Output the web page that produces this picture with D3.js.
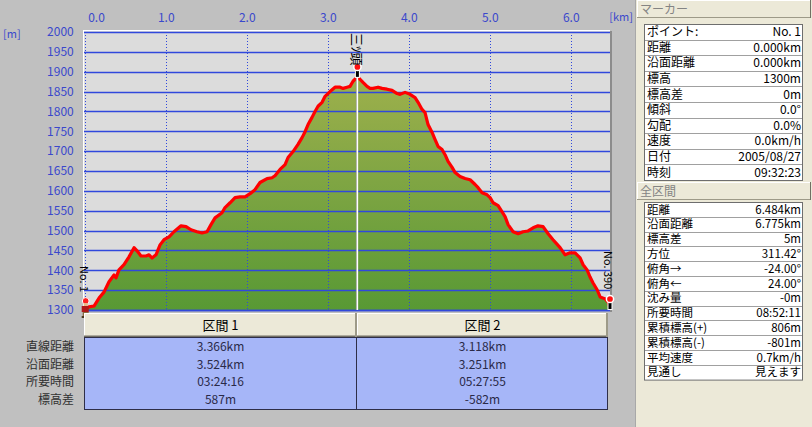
<!DOCTYPE html>
<html><head><meta charset="utf-8">
<script src="https://cdn.jsdelivr.net/npm/d3@7"></script>
<style>
html,body{margin:0;padding:0;background:#c0c0c0;}
svg{display:block;font-family:"Noto Sans CJK JP","Noto Sans",sans-serif;}
</style></head><body>
<svg id="chart" width="812" height="427"></svg>
<script>
// ---- data ----
const distKm = [0.000,0.053,0.115,0.177,0.238,0.300,0.362,0.386,0.423,0.485,0.547,0.609,0.646,0.695,0.757,0.794,0.831,0.880,0.930,0.979,1.041,1.102,1.189,1.251,1.312,1.386,1.448,1.510,1.559,1.609,1.695,1.732,1.794,1.856,1.917,1.979,2.041,2.102,2.164,2.251,2.312,2.349,2.411,2.473,2.510,2.572,2.633,2.683,2.720,2.757,2.806,2.843,2.880,2.930,2.967,3.028,3.090,3.152,3.189,3.238,3.275,3.312,3.366,3.398,3.435,3.485,3.522,3.559,3.621,3.670,3.732,3.794,3.856,3.893,3.954,4.016,4.078,4.115,4.164,4.201,4.238,4.288,4.325,4.362,4.411,4.448,4.485,4.535,4.572,4.633,4.695,4.757,4.819,4.856,4.905,4.967,5.004,5.041,5.103,5.152,5.189,5.226,5.288,5.350,5.412,5.473,5.535,5.596,5.658,5.720,5.781,5.868,5.930,5.991,6.053,6.115,6.152,6.201,6.238,6.275,6.325,6.362,6.425,6.462,6.484];
const elevM = [1300,1308,1310,1330,1345,1371,1388,1381,1401,1414,1434,1457,1449,1436,1436,1439,1431,1439,1464,1477,1484,1497,1512,1510,1502,1497,1494,1497,1515,1532,1545,1558,1570,1583,1585,1585,1593,1603,1621,1631,1633,1638,1654,1666,1684,1699,1717,1734,1749,1767,1785,1800,1813,1823,1838,1850,1861,1861,1858,1861,1863,1876,1887,1881,1873,1863,1858,1858,1861,1858,1856,1853,1845,1843,1848,1843,1835,1823,1805,1797,1767,1747,1729,1712,1704,1691,1674,1659,1646,1636,1631,1628,1616,1608,1595,1590,1583,1570,1563,1547,1535,1515,1497,1492,1497,1499,1507,1512,1510,1492,1477,1457,1439,1444,1444,1431,1414,1401,1383,1368,1351,1333,1328,1320,1305];
const xTicks = [0,1,2,3,4,5,6];
const yTicks = [1300,1350,1400,1450,1500,1550,1600,1650,1700,1750,1800,1850,1900,1950,2000];
const sectionCuts = [0, 3.366, 6.484];
const peakName = "三ﾂ頭";
const startName = "No. 1";
const endName = "No. 390";
const sectionNames = ["区間 1", "区間 2"];
const sectionRowLabels = ["直線距離", "沿面距離", "所要時間", "標高差"];
const section1Values = ["3.366km", "3.524km", "03:24:16", "587m"];
const section2Values = ["3.118km", "3.251km", "05:27:55", "-582m"];
const markerLabels = ["ポイント:", "距離", "沿面距離", "標高", "標高差", "傾斜", "勾配", "速度", "日付", "時刻"];
const markerValues = ["No. 1", "0.000km", "0.000km", "1300m", "0m", "0.0°", "0.0%", "0.0km/h", "2005/08/27", "09:32:23"];
const totalLabels = ["距離", "沿面距離", "標高差", "方位", "俯角→", "俯角←", "沈み量", "所要時間", "累積標高(+)", "累積標高(-)", "平均速度", "見通し"];
const totalValues = ["6.484km", "6.775km", "5m", "311.42°", "-24.00°", "24.00°", "-0m", "08:52:11", "806m", "-801m", "0.7km/h", "見えます"];

// ---- setup ----
const svg = d3.select("#chart");
const W = 812, H = 427;
const P = {l: 84.7, r: 610, t: 32, b: 310};
const x = d3.scaleLinear().domain([0, 6.484]).range([P.l, P.r]);
const y = d3.scaleLinear().domain([1300, 2000]).range([P.b, P.t]);
const blue = "#3048dc", axisTxt = "#3a48cc";

svg.append("rect").attr("width", W).attr("height", H).attr("fill", "#c0c0c0");

const defs = svg.append("defs");
const grad = defs.append("linearGradient").attr("id", "g1")
  .attr("gradientUnits", "userSpaceOnUse").attr("x1", 0).attr("x2", 0).attr("y1", 75).attr("y2", 310);
grad.append("stop").attr("offset", 0).attr("stop-color", "#9eb04c");
grad.append("stop").attr("offset", 0.5).attr("stop-color", "#7ca442");
grad.append("stop").attr("offset", 1).attr("stop-color", "#589934");

// plot background
svg.append("rect").attr("x", 84).attr("y", 31).attr("width", P.r - 84).attr("height", P.b - 31).attr("fill", "#dcdcdc");
svg.append("line").attr("x1", 83).attr("x2", P.r).attr("y1", 30.5).attr("y2", 30.5).attr("stroke", "#fff");
svg.append("line").attr("x1", 83.5).attr("x2", 83.5).attr("y1", 30).attr("y2", P.b).attr("stroke", "#fff");
svg.append("rect").attr("x", P.r).attr("y", 31).attr("width", 2).attr("height", P.b - 29).attr("fill", "#8c8c8c");

const pts = distKm.map((d, i) => [d, elevM[i]]);
svg.append("path").datum(pts)
  .attr("d", d3.area().x(d => x(d[0])).y0(P.b).y1(d => y(d[1])))
  .attr("fill", "url(#g1)");

// horizontal grid (drawn over the fill, as in the reference)
svg.append("g").selectAll("line").data(yTicks).join("line")
  .attr("x1", 84).attr("x2", P.r).attr("y1", d => Math.round(y(d)) + 0.5).attr("y2", d => Math.round(y(d)) + 0.5)
  .attr("stroke", blue).attr("stroke-width", 1.3);
// vertical dotted grid
svg.append("g").selectAll("line").data(xTicks).join("line")
  .attr("x1", d => Math.round(x(d)) + 0.5).attr("x2", d => Math.round(x(d)) + 0.5)
  .attr("y1", P.t).attr("y2", P.b)
  .attr("stroke", blue).attr("stroke-width", 1).attr("stroke-dasharray", "1,2");
svg.append("line").attr("x1", 84).attr("x2", P.r).attr("y1", P.b + 0.5).attr("y2", P.b + 0.5).attr("stroke", blue).attr("stroke-width", 1.6);

svg.append("path").datum(pts)
  .attr("d", d3.line().x(d => x(d[0])).y(d => y(d[1])))
  .attr("fill", "none").attr("stroke", "#ff0000").attr("stroke-width", 3.2).attr("stroke-linejoin", "round");

// cursor line at section cut
const cx = x(sectionCuts[1]);
svg.append("line").attr("x1", cx - 1).attr("x2", cx - 1).attr("y1", 70).attr("y2", P.b).attr("stroke", "#909090").attr("stroke-width", 1);
svg.append("line").attr("x1", cx).attr("x2", cx).attr("y1", 70).attr("y2", P.b).attr("stroke", "#ffffff").attr("stroke-width", 1.5);

// markers
function pin(px, py) {
  const g = svg.append("g");
  g.append("rect").attr("x", px - 2.5).attr("y", py - 10).attr("width", 5).attr("height", 11).attr("fill", "#fff");
  g.append("rect").attr("x", px - 1.5).attr("y", py - 10).attr("width", 3).attr("height", 10).attr("fill", "#000");
  g.append("circle").attr("cx", px).attr("cy", py - 10).attr("r", 3.6).attr("fill", "#ff1010").attr("stroke", "#fff").attr("stroke-width", 1.5);
}
const iPeak = distKm.indexOf(sectionCuts[1]);
pin(x(distKm[iPeak]), y(elevM[iPeak]));
pin(x(distKm[distKm.length - 1]), y(elevM[elevM.length - 1]) + 1);

// start hiker icon
(function () {
  const sx = x(distKm[0]), sy = y(elevM[0]);
  const g = svg.append("g").attr("transform", `translate(${sx - 2},${sy - 10})`);
  g.append("circle").attr("cx", 3).attr("cy", 1).attr("r", 3.4).attr("fill", "#ff2020").attr("stroke", "#fff").attr("stroke-width", 1);
  g.append("rect").attr("x", 1).attr("y", 3).attr("width", 4).attr("height", 3).attr("fill", "#e8b888");
  g.append("rect").attr("x", -1).attr("y", 6).attr("width", 7).attr("height", 6).attr("fill", "#b01818");
  g.append("rect").attr("x", 0).attr("y", 12).attr("width", 6).attr("height", 4).attr("fill", "#8a6a40");
  g.append("rect").attr("x", -1).attr("y", 16).attr("width", 3).attr("height", 2).attr("fill", "#4a3a20");
  g.append("rect").attr("x", 4).attr("y", 16).attr("width", 3).attr("height", 2).attr("fill", "#4a3a20");
})();

// rotated labels
function vlabel(px, py, txt, fs) {
  svg.append("text").attr("transform", `translate(${px},${py}) rotate(90)`)
    .attr("dominant-baseline", "central").attr("font-size", fs).attr("fill", "#000").text(txt);
}
vlabel(x(distKm[iPeak]) + 0.5, 33, peakName, 13);
vlabel(x(0) + 0.5, 266, startName, 11);
vlabel(x(distKm[distKm.length - 1]) - 1, 251, endName, 11);

// axes
const yAx = svg.append("g").attr("transform", `translate(${P.l},0)`)
  .call(d3.axisLeft(y).tickValues(yTicks).tickFormat(d3.format("d")).tickSize(0).tickPadding(11));
yAx.select(".domain").remove();
yAx.selectAll("text").attr("fill", axisTxt).attr("font-size", 12).attr("font-family", "'Noto Sans CJK JP',sans-serif");

const xAx = svg.append("g").attr("transform", `translate(0,${P.t - 1})`)
  .call(d3.axisTop(x).tickValues(xTicks).tickFormat(d3.format(".1f")).tickSize(0).tickPadding(9));
xAx.select(".domain").remove();
xAx.selectAll("text").attr("fill", axisTxt).attr("font-size", 12).attr("font-family", "'Noto Sans CJK JP',sans-serif");
xAx.selectAll(".tick").filter(d => d === 0).select("text").attr("text-anchor", "start").attr("dx", 3);
svg.append("text").attr("x", 3).attr("y", 38).attr("fill", axisTxt).attr("font-size", 11).text("[m]");

// ---- section table ----
const tTop = 313, hdrH = 24, dTop = 337, dBot = 410;
const colX = sectionCuts.map(d => Math.round(x(d)));
colX[0] = 84; colX[2] = 608;
const secVals = [section1Values, section2Values];
sectionNames.forEach((nm, i) => {
  const x0 = colX[i], x1 = colX[i + 1];
  const g = svg.append("g");
  g.append("rect").attr("x", x0).attr("y", tTop).attr("width", x1 - x0).attr("height", hdrH).attr("fill", "#ece9d8");
  g.append("line").attr("x1", x0).attr("x2", x1).attr("y1", tTop + 0.5).attr("y2", tTop + 0.5).attr("stroke", "#fff");
  g.append("line").attr("x1", x0 + 0.5).attr("x2", x0 + 0.5).attr("y1", tTop).attr("y2", tTop + hdrH).attr("stroke", "#fff");
  g.append("line").attr("x1", x0).attr("x2", x1).attr("y1", tTop + hdrH - 0.5).attr("y2", tTop + hdrH - 0.5).attr("stroke", "#716f64").attr("stroke-width", 2);
  g.append("line").attr("x1", x1 - 1).attr("x2", x1 - 1).attr("y1", tTop).attr("y2", tTop + hdrH).attr("stroke", "#9d9a88").attr("stroke-width", 2);
  g.append("text").attr("x", (x0 + x1) / 2).attr("y", tTop + 17).attr("text-anchor", "middle").attr("font-size", 13).attr("fill", "#000").text(nm);
});
svg.append("rect").attr("x", 84.5).attr("y", dTop + 0.5).attr("width", colX[2] - 85).attr("height", dBot - dTop - 1)
  .attr("fill", "#a6b6f8").attr("stroke", "#2e2e48");
svg.append("line").attr("x1", colX[1] - 0.5).attr("x2", colX[1] - 0.5).attr("y1", dTop).attr("y2", dBot).attr("stroke", "#2e2e48");
const rowY = [351, 369, 386, 404];
sectionRowLabels.forEach((lb, j) => {
  svg.append("text").attr("x", 74).attr("y", rowY[j]).attr("text-anchor", "end").attr("font-size", 12).attr("fill", "#303030").text(lb);
});
secVals.forEach((vals, i) => {
  vals.forEach((v, j) => {
    svg.append("text").attr("x", (colX[i] + colX[i + 1]) / 2).attr("y", rowY[j]).attr("text-anchor", "middle")
      .attr("font-size", 12).attr("fill", "#2a2a48").text(v);
  });
});

// ---- right panel ----
svg.append("rect").attr("x", 636).attr("y", 0).attr("width", 176).attr("height", H).attr("fill", "#ece9d8");
svg.append("line").attr("x1", 635.5).attr("x2", 635.5).attr("y1", 0).attr("y2", H).attr("stroke", "#a8a8a8");
svg.append("text").attr("x", 633).attr("y", 21).attr("text-anchor", "end").attr("fill", axisTxt).attr("font-size", 11).text("[km]");
function header(y0, txt) {
  const g = svg.append("g");
  g.append("rect").attr("x", 637).attr("y", y0).attr("width", 174).attr("height", 18).attr("fill", "#ece9d8");
  g.append("line").attr("x1", 637).attr("x2", 811).attr("y1", y0 + 0.5).attr("y2", y0 + 0.5).attr("stroke", "#fff");
  g.append("line").attr("x1", 637.5).attr("x2", 637.5).attr("y1", y0).attr("y2", y0 + 18).attr("stroke", "#fff");
  g.append("line").attr("x1", 637).attr("x2", 811).attr("y1", y0 + 17.5).attr("y2", y0 + 17.5).attr("stroke", "#9d9a88");
  g.append("line").attr("x1", 810.5).attr("x2", 810.5).attr("y1", y0).attr("y2", y0 + 18).attr("stroke", "#716f64");
  g.append("text").attr("x", 640).attr("y", y0 + 13.5).attr("font-size", 12).attr("fill", "#848484").text(txt);
}
function infoTable(y0, rowH, labels, values, fs) {
  const g = svg.append("g");
  const h = rowH * labels.length;
  g.append("rect").attr("x", 644.5).attr("y", y0 + 0.5).attr("width", 158).attr("height", h).attr("fill", "#fff").attr("stroke", "#6e6e6e");
  labels.forEach((lb, i) => {
    const ry = y0 + i * rowH;
    if (i > 0) g.append("line").attr("x1", 645).attr("x2", 802).attr("y1", Math.round(ry) + 0.5).attr("y2", Math.round(ry) + 0.5).attr("stroke", "#a0a0a0");
    g.append("text").attr("x", 647).attr("y", ry + rowH / 2 + fs * 0.37).attr("font-size", fs).attr("fill", "#000").text(lb);
    g.append("text").attr("x", 801).attr("y", ry + rowH / 2 + fs * 0.37).attr("text-anchor", "end").attr("font-size", fs).attr("fill", "#000").text(values[i]);
  });
}
header(0, "マーカー");
infoTable(24, 15.6, markerLabels, markerValues, 12);
header(182, "全区間");
infoTable(202, 14.8, totalLabels, totalValues, 11.5);
</script>
</body></html>
